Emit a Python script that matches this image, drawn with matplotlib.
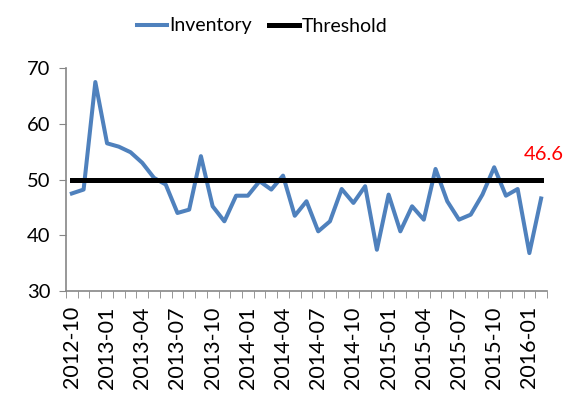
import matplotlib
matplotlib.use('Agg')
import matplotlib.pyplot as plt
import numpy as np

plt.rcParams['font.family'] = ['Lato', 'DejaVu Sans']

# monthly values, 2012-10 .. 2016-02
months = ['2012-10', '2012-11', '2012-12',
          '2013-01', '2013-02', '2013-03', '2013-04', '2013-05', '2013-06',
          '2013-07', '2013-08', '2013-09', '2013-10', '2013-11', '2013-12',
          '2014-01', '2014-02', '2014-03', '2014-04', '2014-05', '2014-06',
          '2014-07', '2014-08', '2014-09', '2014-10', '2014-11', '2014-12',
          '2015-01', '2015-02', '2015-03', '2015-04', '2015-05', '2015-06',
          '2015-07', '2015-08', '2015-09', '2015-10', '2015-11', '2015-12',
          '2016-01', '2016-02']
inventory = [47.5, 48.2, 67.5, 56.5, 55.9, 54.9, 53.0, 50.3, 49.1,
             44.0, 44.6, 54.2, 45.2, 42.5, 47.1, 47.1, 49.7, 48.2,
             50.7, 43.5, 46.1, 40.7, 42.5, 48.3, 45.8, 48.8, 37.4,
             47.3, 40.7, 45.2, 42.8, 51.9, 46.1, 42.8, 43.7, 47.3,
             52.2, 47.1, 48.3, 36.8, 46.6]
threshold = [50] * len(months)

blue = '#4F81BD'
grey = '#868686'

fig = plt.figure(figsize=(5.76, 4.03), dpi=100)
ax = fig.add_axes([0.1146, 0.278, 0.835, 0.553])

x = np.arange(len(months))
ax.plot(x, inventory, color=blue, lw=2.9, label='Inventory', solid_joinstyle='round')
ax.plot(x, threshold, color='black', lw=3.6, label='Threshold')

ax.annotate(f'{inventory[-1]:.1f}', xy=(x[-1], threshold[-1]), xytext=(2, 12),
            textcoords='offset points', color='red', fontsize=14.5, ha='center', va='bottom')

ax.set_xlim(-0.5, len(months) - 0.5)
ax.set_ylim(30, 70)
ax.set_yticks([30, 40, 50, 60, 70])
ax.set_xticks(x[::3])
ax.set_xticklabels(months[::3], rotation=90)
ax.set_xticks(np.arange(-0.5, len(months), 1), minor=True)
ax.tick_params(axis='x', which='major', length=0, pad=11, labelsize=15.5)
ax.tick_params(axis='x', which='minor', length=5, color=grey, direction='out')
ax.tick_params(axis='y', length=5, color=grey, labelsize=14.5, pad=6)

for side in ['top', 'right']:
    ax.spines[side].set_visible(False)
for side in ['left', 'bottom']:
    ax.spines[side].set_color(grey)
    ax.spines[side].set_linewidth(1.2)

fig.legend(loc='upper center', bbox_to_anchor=(0.455, 1.0), ncol=2, frameon=False,
           fontsize=14, handlelength=1.55, handletextpad=0.1, columnspacing=0.9)

fig.savefig('out.png', dpi=100)
